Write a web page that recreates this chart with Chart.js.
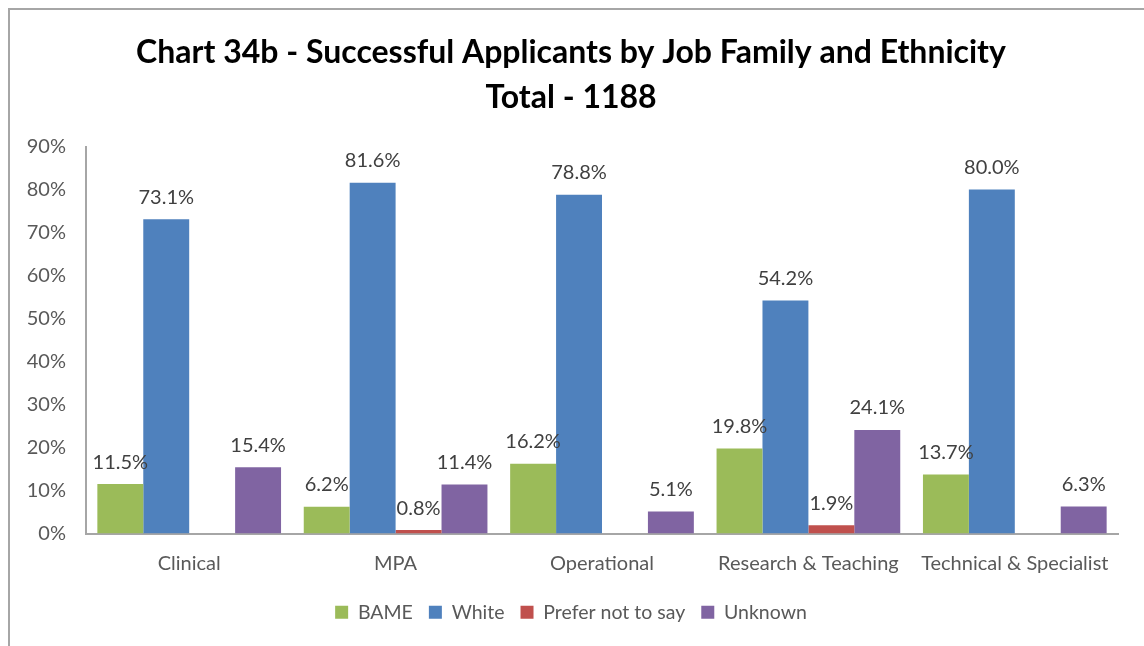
<!DOCTYPE html>
<html lang="en">
<head>
    <meta charset="UTF-8">
    <title>Chart 34b</title>
    <script src="https://cdn.jsdelivr.net/npm/chart.js"></script>
    <style>
     body {
         margin: 0;
         background: #fff;
     }
     .x-frame {
         position: absolute;
         left: 8px;
         top: 8px;
         width: 1200px;
         height: 700px;
         border-left: 2px solid #a6a6a6;
         border-top: 2px solid #a6a6a6;
     }
     .x-chart {
         position: absolute;
         left: 0;
         top: 0;
         width: 1144px;
         height: 646px;
     }
    </style>
</head>
<body>
    <div class="x-frame"></div>
    <div class="x-chart">
        <canvas id="chart-ethnicity" width="1144" height="646"></canvas>
    </div>

<script>
    const categories = ['Clinical', 'MPA', 'Operational', 'Research & Teaching', 'Technical & Specialist'];
    const bame = [11.5, 6.2, 16.2, 19.8, 13.7];
    const white = [73.1, 81.6, 78.8, 54.2, 80.0];
    const preferNot = [0, 0.8, 0, 1.9, 0];
    const unknown = [15.4, 11.4, 5.1, 24.1, 6.3];

    const fontName = 'Lato, "Open Sans", sans-serif';

    // labels on top of bars (skip zeros)
    const barLabels = {
        id: 'barLabels',
        afterDatasetsDraw(chart) {
            const ctx = chart.ctx;
            ctx.save();
            ctx.font = '20px ' + fontName;
            ctx.fillStyle = '#404040';
            ctx.textAlign = 'center';
            ctx.textBaseline = 'middle';
            chart.data.datasets.forEach((ds, i) => {
                const meta = chart.getDatasetMeta(i);
                meta.data.forEach((bar, j) => {
                    const v = ds.data[j];
                    if (!v) return;
                    ctx.fillText(v.toFixed(1) + '%', bar.x, bar.y - 22);
                });
            });
            ctx.restore();
        }
    };

    const ctx = document.getElementById('chart-ethnicity').getContext('2d');
    new Chart(ctx, {
        type: 'bar',
        data: {
            labels: categories,
            datasets: [
                { label: 'BAME', data: bame, backgroundColor: '#9BBB59' },
                { label: 'White', data: white, backgroundColor: '#4F81BD' },
                { label: 'Prefer not to say', data: preferNot, backgroundColor: '#C0504D' },
                { label: 'Unknown', data: unknown, backgroundColor: '#8064A2' }
            ]
        },
        options: {
            responsive: false,
            animation: false,
            devicePixelRatio: 1,
            layout: { padding: { left: 24, right: 26, top: 0, bottom: 14 } },
            datasets: {
                bar: { categoryPercentage: 0.89, barPercentage: 1.0 }
            },
            scales: {
                x: {
                    grid: { display: false, drawTicks: false },
                    border: { color: '#a6a6a6', width: 2 },
                    ticks: { color: '#595959', font: { family: fontName, size: 20 }, padding: 18, maxRotation: 0, autoSkip: false },
                    afterFit(scale) { scale.height = 53; }
                },
                y: {
                    min: 0,
                    max: 90,
                    grid: { display: false, drawTicks: false },
                    border: { color: '#a6a6a6', width: 2 },
                    ticks: {
                        stepSize: 10,
                        color: '#595959',
                        font: { family: fontName, size: 20 },
                        padding: 20,
                        callback: v => v + '%'
                    },
                    afterFit(scale) { scale.width = 62; }
                }
            },
            plugins: {
                title: {
                    display: true,
                    text: ['Chart 34b - Successful Applicants by Job Family and Ethnicity', 'Total - 1188'],
                    color: '#000',
                    font: { family: fontName, size: 32, weight: 'bold', lineHeight: 1.4 },
                    padding: { top: 30, bottom: 27 }
                },
                legend: {
                    position: 'bottom',
                    labels: {
                        boxWidth: 13,
                        boxHeight: 13,
                        color: '#595959',
                        font: { family: fontName, size: 19.5 },
                        padding: 16
                    }
                },
                tooltip: { enabled: false }
            }
        },
        plugins: [barLabels]
    });
</script>
</body>
</html>
